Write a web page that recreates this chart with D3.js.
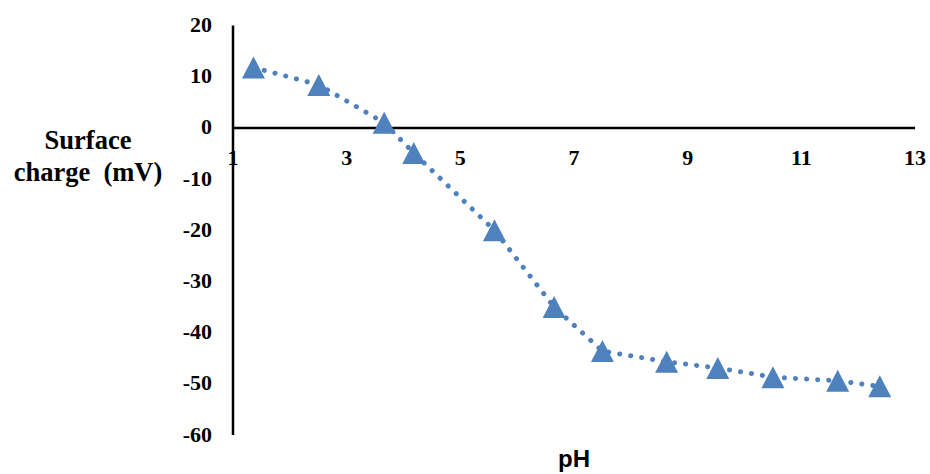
<!DOCTYPE html>
<html>
<head>
<meta charset="utf-8">
<script src="https://cdn.jsdelivr.net/npm/d3@7"></script>
<style>
  html, body { margin: 0; padding: 0; background: #fff; }
  svg { display: block; }
</style>
</head>
<body>
<svg id="chart" width="930" height="474"></svg>
<script>
const pH = [1.36, 2.51, 3.66, 4.18, 5.60, 6.65, 7.50, 8.63, 9.53, 10.50, 11.64, 12.38];
const charge = [11.8, 8.4, 1.0, -4.9, -20.0, -35.0, -43.6, -45.7, -46.9, -48.7, -49.4, -50.5];
const xTicks = [1, 3, 5, 7, 9, 11, 13];
const yTicks = [20, 10, 0, -10, -20, -30, -40, -50, -60];
const xTitle = "pH";
const yTitleLines = ["Surface", "charge\u00a0\u00a0(mV)"];

const color = "#4F81BD";
const svg = d3.select("#chart");

const x = d3.scaleLinear().domain([1, 13]).range([233, 915]);
const y = d3.scaleLinear().domain([-60, 20]).range([435, 25.5]);

svg.append("line")
  .attr("x1", x(1)).attr("x2", x(1))
  .attr("y1", y(20)).attr("y2", y(-60))
  .attr("stroke", "#000").attr("stroke-width", 2.5);
svg.append("line")
  .attr("x1", x(1)).attr("x2", x(13))
  .attr("y1", y(0)).attr("y2", y(0))
  .attr("stroke", "#000").attr("stroke-width", 2.5);

const serif = "'Liberation Serif', 'Times New Roman', serif";

svg.append("g").selectAll("text").data(yTicks).join("text")
  .attr("x", 212)
  .attr("y", d => y(d) + 6.5)
  .attr("text-anchor", "end")
  .attr("font-family", serif)
  .attr("font-weight", "bold")
  .attr("font-size", 22)
  .attr("fill", "#000")
  .text(d => d);

svg.append("g").selectAll("text").data(xTicks).join("text")
  .attr("x", d => x(d))
  .attr("y", y(0) + 37.5)
  .attr("text-anchor", "middle")
  .attr("font-family", serif)
  .attr("font-weight", "bold")
  .attr("font-size", 22)
  .attr("fill", "#000")
  .text(d => d);

svg.append("text")
  .attr("x", 574).attr("y", 467)
  .attr("text-anchor", "middle")
  .attr("font-family", "'Liberation Sans', Arial, sans-serif")
  .attr("font-weight", "bold")
  .attr("font-size", 24)
  .text(xTitle);

svg.append("g").selectAll("text").data(yTitleLines).join("text")
  .attr("x", 88)
  .attr("y", (d, i) => 149 + i * 31.5)
  .attr("text-anchor", "middle")
  .attr("font-family", serif)
  .attr("font-weight", "bold")
  .attr("font-size", 26.5)
  .text(d => d);

const pts = pH.map((v, i) => [v, charge[i]]);

svg.append("path")
  .datum(pts)
  .attr("d", d3.line().x(d => x(d[0])).y(d => y(d[1])))
  .attr("fill", "none")
  .attr("stroke", color)
  .attr("stroke-width", 5)
  .attr("stroke-linecap", "round")
  .attr("stroke-dasharray", "0.1 11");

svg.append("g").selectAll("path").data(pts).join("path")
  .attr("transform", d => `translate(${x(d[0])},${y(d[1])})`)
  .attr("d", "M0,-11L11.5,11L-11.5,11Z")
  .attr("fill", color);
</script>
</body>
</html>
